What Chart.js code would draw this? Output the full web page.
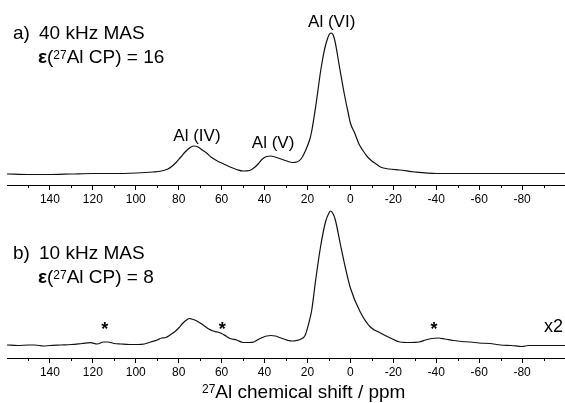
<!DOCTYPE html>
<html>
<head>
<meta charset="utf-8">
<script src="https://cdn.jsdelivr.net/npm/chart.js@4.4.1/dist/chart.umd.min.js"></script>
<style>
  html, body { margin: 0; padding: 0; background: #fff; }
  #wrap { position: relative; width: 565px; height: 403px; overflow: hidden; }
  canvas { position: absolute; left: 0; }
  #spectrumA { top: 0; }
  #spectrumB { top: 200px; }
</style>
</head>
<body>
<div id="wrap">
  <canvas id="spectrumA" width="565" height="213"></canvas>
  <canvas id="spectrumB" width="565" height="203"></canvas>
</div>
<script>
// a) 40 kHz MAS, chemical shift (ppm) and intensity (arb. units)
const ppmA = [160, 150, 140, 130, 120, 110, 100, 92, 88, 85, 83, 81, 79, 77, 75, 73, 71, 69, 67, 65,
  62, 59, 56, 53, 50, 47, 45, 43, 41, 39, 37, 35, 33, 31, 29, 27, 25, 23, 21, 19,
  18, 16, 14, 13, 12, 11, 10, 9, 8, 7, 6, 5, 4, 3, 2, 1, 0, -2, -4, -6,
  -8, -10, -12, -14, -18, -23, -30, -40, -60, -80, -100];
const intA = [0, -0.5, -0.5, 0, 0.5, 0.5, 1, 2, 3, 5, 8, 12, 17, 22, 26, 28, 27, 24, 21, 17,
  13, 10, 7, 4.5, 3, 3.5, 6, 10, 15, 17.5, 18, 17, 15.5, 14, 12.5, 11.5, 12, 15, 23, 34,
  43, 70, 101, 114, 125, 133, 139, 141, 139, 131, 119, 106, 94, 82, 71, 61, 51, 41, 30, 23,
  17, 13, 10, 7, 5, 4, 2, 0.5, 0.5, 0.5, 0.5];

// b) 10 kHz MAS (x2)
const ppmB = [160, 155, 150, 147, 143, 140, 135, 130, 125, 121, 118, 115, 113, 110, 107, 103, 99, 96, 93, 90,
  88, 86, 84, 82, 80, 78, 76, 75, 74, 72, 70, 68, 66, 64, 62, 60, 58, 56, 53, 50,
  47, 45, 43, 41, 39, 37, 35, 33, 31, 29, 27, 25, 23, 21, 19, 18, 16.3, 14, 11.6, 10,
  9.3, 8, 7, 4.6, 2.3, 0, -4.6, -9.3, -14, -18.6, -23, -28, -32, -35, -38, -41, -44, -48, -52, -56,
  -60, -65, -70, -75, -80, -83, -90, -95, -100];
const intB = [0, -0.5, 0, 0, -1, -0.5, 0, 0.5, 1.5, 2.3, 1, 3, 3, 1.5, 1, 0.5, 0.5, 1, 3, 5,
  7, 7.5, 10, 13, 17, 22, 25.5, 26.5, 26, 24.5, 22, 19, 16, 14, 13, 11.5, 9, 6.5, 5, 2.5,
  2.5, 3, 5.5, 7.5, 9, 9.5, 9, 7.5, 6, 4.5, 4, 4.5, 6, 10, 25, 35, 63, 97, 123, 132,
  134, 131, 125, 100, 77, 57, 33, 18, 12, 7, 3, 2.5, 3, 5, 6.5, 7, 6, 4.5, 3.5, 3,
  2, 1.5, 0, -0.5, -1.5, -0.5, -0.5, -0.5, -0.5];

const majorTicks = [140, 120, 100, 80, 60, 40, 20, 0, -20, -40, -60, -80];
const minorTicks = [150, 130, 110, 90, 70, 50, 30, 10, -10, -30, -50, -70, -90];
const sidebands = [114.5, 59.7, -39];

const FONT = '"Liberation Sans", Arial, Helvetica, sans-serif';

function toPoints(xs, ys) {
  return xs.map((x, i) => ({ x: x, y: ys[i] }));
}

// draws "ε(27Al CP) = n" with a superscript 27
function drawEpsilon(ctx, x, y, rest) {
  ctx.textAlign = 'left';
  ctx.textBaseline = 'alphabetic';
  ctx.font = 'bold 19px ' + FONT;
  ctx.fillText('ε', x, y);
  x += ctx.measureText('ε').width;
  ctx.font = '19px ' + FONT;
  ctx.fillText('(', x, y);
  x += ctx.measureText('(').width;
  ctx.font = '12px ' + FONT;
  ctx.fillText('27', x, y - 4);
  x += ctx.measureText('27').width;
  ctx.font = '19px ' + FONT;
  ctx.fillText(rest, x, y);
}

function notesPlugin(drawNotes) {
  return {
    id: 'notes',
    afterDraw(chart) {
      const ctx = chart.ctx;
      const xs = chart.scales.x;
      const bottom = chart.chartArea.bottom;
      ctx.save();
      ctx.strokeStyle = '#000';
      ctx.lineWidth = 1;
      minorTicks.forEach(v => {
        const px = Math.round(xs.getPixelForValue(v)) + 0.5;
        ctx.beginPath();
        ctx.moveTo(px, bottom);
        ctx.lineTo(px, bottom + 3);
        ctx.stroke();
      });
      ctx.fillStyle = '#000';
      drawNotes(ctx, chart);
      ctx.restore();
    }
  };
}

function makeSpectrum(canvasId, xs, ys, yMin, yMax, axisHeight, drawNotes) {
  const ctx = document.getElementById(canvasId).getContext('2d');
  return new Chart(ctx, {
    type: 'line',
    data: {
      datasets: [{
        data: toPoints(xs, ys),
        borderColor: '#111',
        borderWidth: 1.2,
        pointRadius: 0,
        fill: false,
        cubicInterpolationMode: 'monotone'
      }]
    },
    options: {
      responsive: false,
      animation: false,
      devicePixelRatio: 1,
      layout: { padding: { left: 7, right: 0, top: 0, bottom: 0 } },
      plugins: { legend: { display: false }, tooltip: { enabled: false } },
      scales: {
        x: {
          type: 'linear',
          reverse: true,
          min: -100,
          max: 160,
          afterFit: scale => { scale.height = axisHeight; },
          border: { display: true, color: '#000', width: 1 },
          grid: { drawOnChartArea: false, drawTicks: true, tickLength: 5, color: '#000' },
          ticks: {
            stepSize: 20,
            autoSkip: false,
            maxRotation: 0,
            padding: 2,
            color: '#000',
            font: { family: FONT, size: 12 },
            callback: v => majorTicks.includes(v) ? String(v) : null
          }
        },
        y: { display: false, min: yMin, max: yMax }
      }
    },
    plugins: [notesPlugin(drawNotes)]
  });
}

makeSpectrum('spectrumA', ppmA, intA, -11, 174, 28, (ctx, chart) => {
  const xs = chart.scales.x, ys = chart.scales.y;
  ctx.textBaseline = 'alphabetic';
  ctx.textAlign = 'left';
  ctx.font = '19px ' + FONT;
  ctx.fillText('a)', 13, 39);
  ctx.fillText('40 kHz MAS', 39, 39);
  drawEpsilon(ctx, 38, 63, 'Al CP) = 16');

  ctx.font = '17px ' + FONT;
  ctx.textAlign = 'center';
  ctx.fillText('Al (IV)', xs.getPixelForValue(71.5), ys.getPixelForValue(33));
  ctx.fillText('Al (V)', xs.getPixelForValue(36), ys.getPixelForValue(26));
  ctx.fillText('Al (VI)', xs.getPixelForValue(8.7), ys.getPixelForValue(147));
});

makeSpectrum('spectrumB', ppmB, intB, -13, 145, 45, (ctx, chart) => {
  const xs = chart.scales.x, ys = chart.scales.y;
  ctx.textBaseline = 'alphabetic';
  ctx.textAlign = 'left';
  ctx.font = '19px ' + FONT;
  ctx.fillText('b)', 13, 59);
  ctx.fillText('10 kHz MAS', 39, 59);
  drawEpsilon(ctx, 38, 83, 'Al CP) = 8');

  // spinning sidebands
  ctx.font = 'bold 18px ' + FONT;
  ctx.textAlign = 'center';
  sidebands.forEach(p => {
    ctx.fillText('*', xs.getPixelForValue(p), ys.getPixelForValue(10.5));
  });

  ctx.textAlign = 'right';
  ctx.font = '18px ' + FONT;
  ctx.fillText('x2', 563, ys.getPixelForValue(13.3));

  // axis title
  ctx.textAlign = 'left';
  let x = 202;
  const y = 198;
  ctx.font = '12px ' + FONT;
  ctx.fillText('27', x, y - 5);
  x += ctx.measureText('27').width;
  ctx.font = '19px ' + FONT;
  ctx.fillText('Al chemical shift / ppm', x, y);
});
</script>
</body>
</html>
